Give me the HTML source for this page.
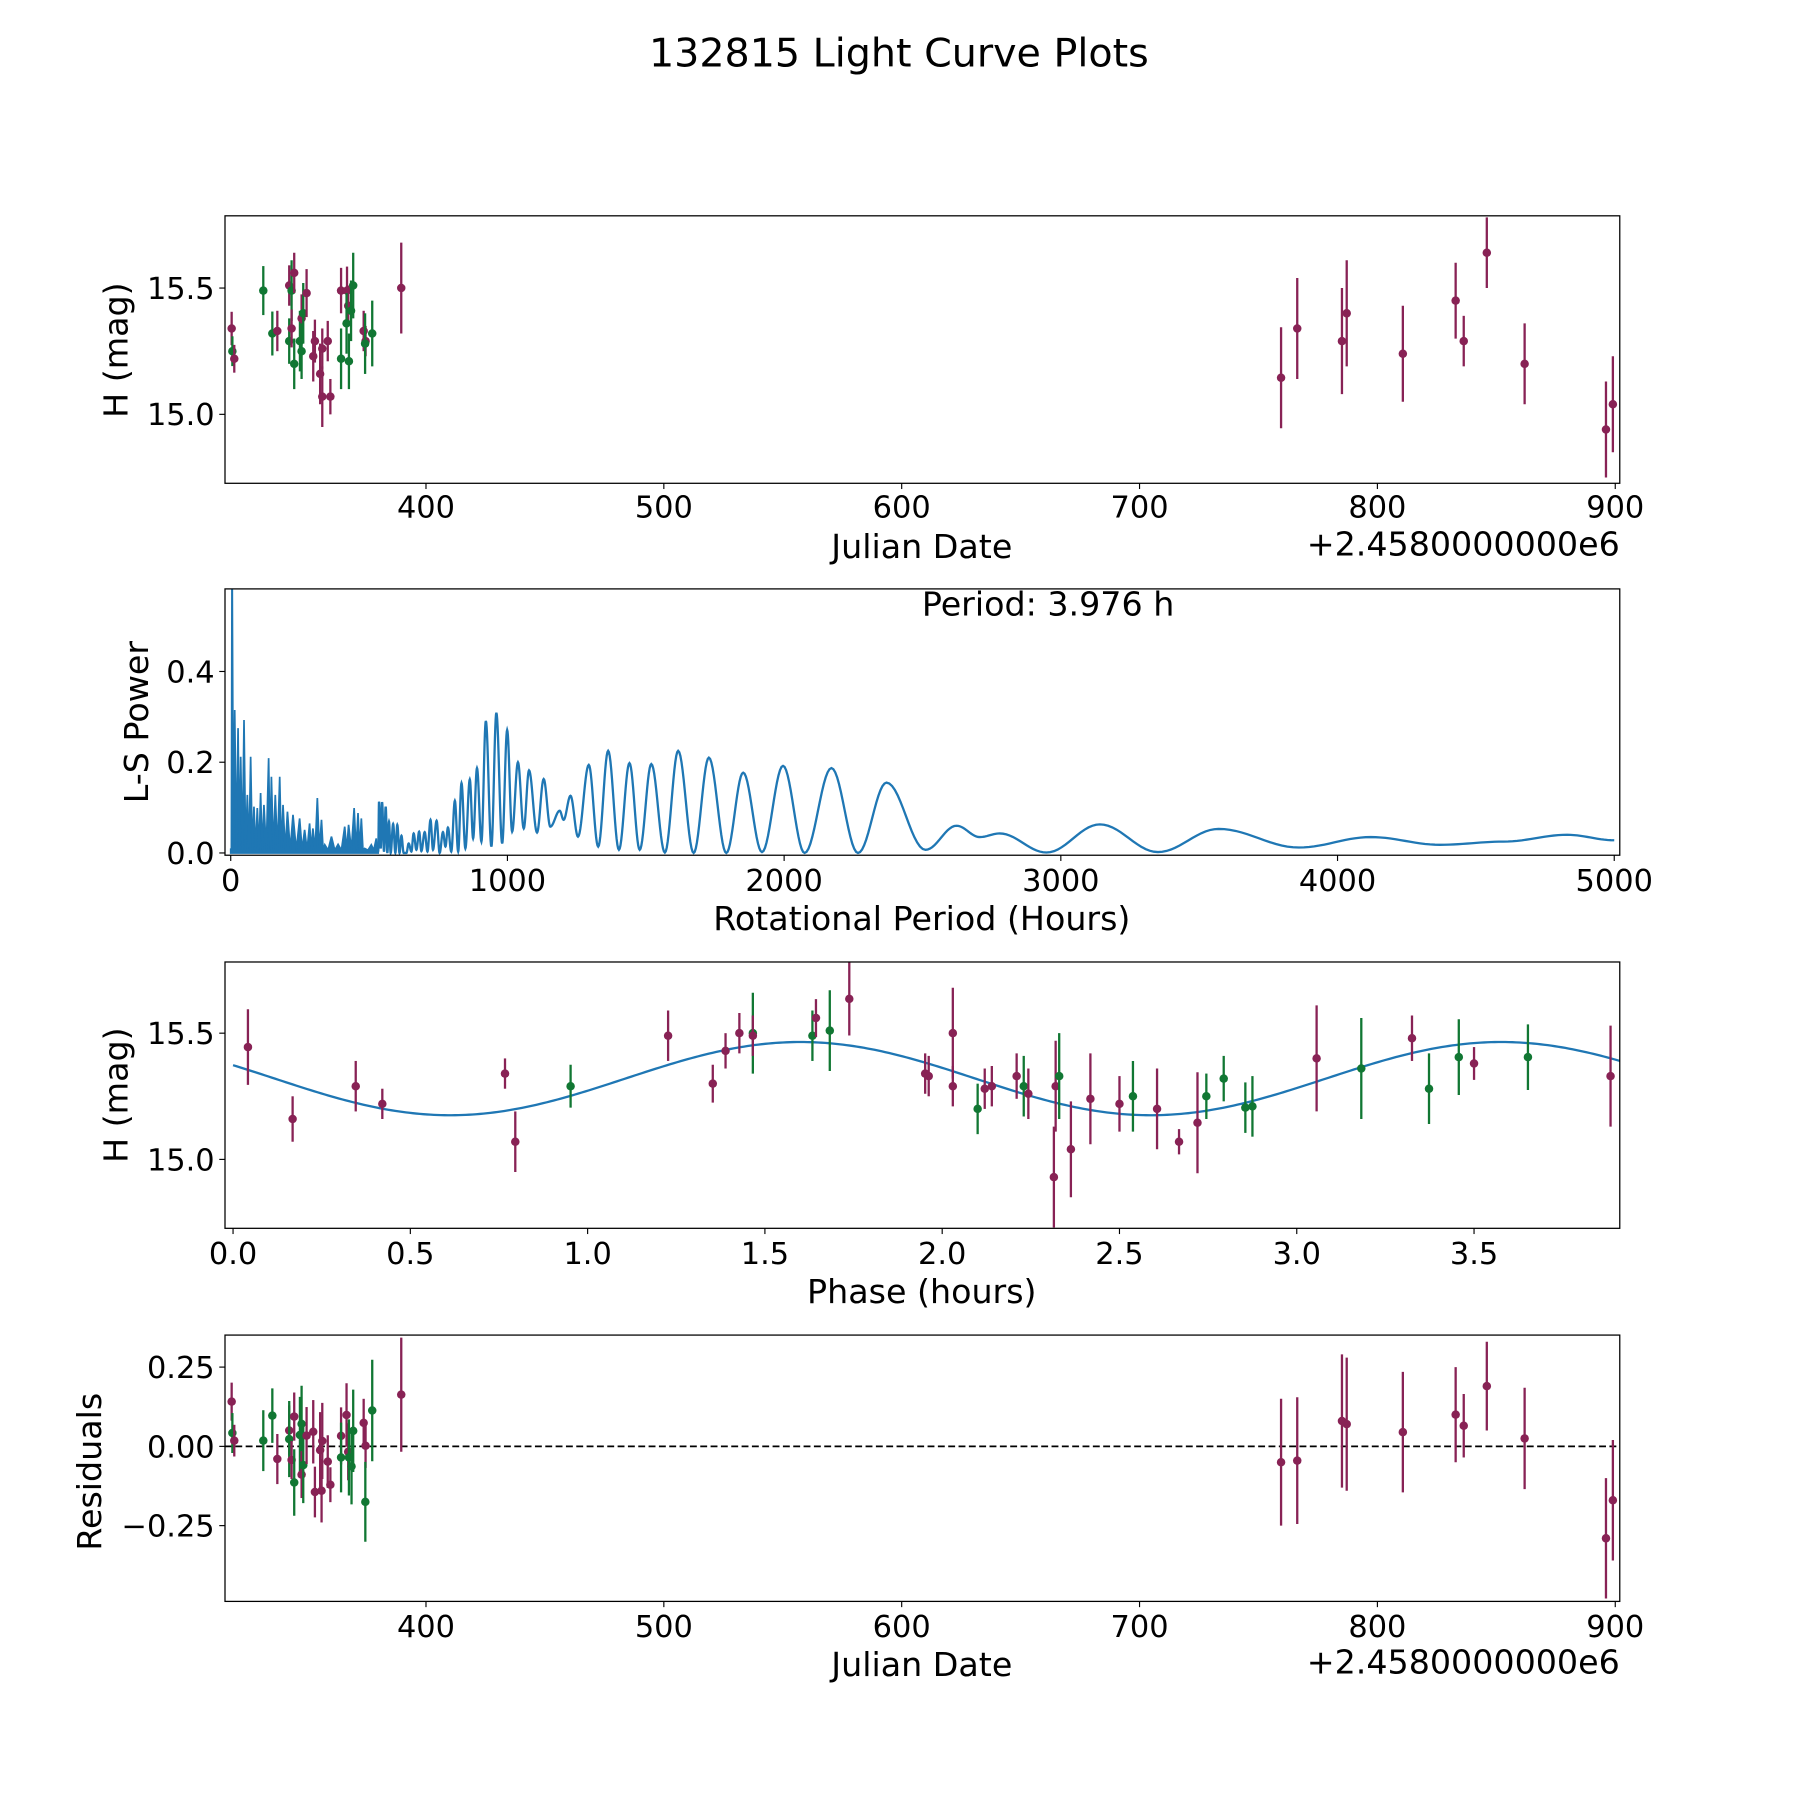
<!DOCTYPE html>
<html><head><meta charset="utf-8"><style>
html,body{margin:0;padding:0;background:#fff}
svg{display:block}
text{font-family:"DejaVu Sans","Liberation Sans",sans-serif;fill:#000}
</style></head><body>
<svg id="fig" width="1800" height="1800" viewBox="0 0 1568 1568" xmlns="http://www.w3.org/2000/svg">
<rect width="1568" height="1568" fill="#fff"/>
<text x="783" y="58" font-size="34.5" text-anchor="middle">132815 Light Curve Plots</text>
</svg>
<script>
// ---------- Panel 1 data: light curve ----------
const jd1  = [318.3,318.6,319.4,331.6,335.4,337.5,342.5,343.5,344.6,342.5,343.5,344.6,347,347.7,348.4,347.7,349.8,352.6,353.3,355.5,356.4,356.4,358.7,359.8,364.3,364.3,366.8,367.3,369.4,368.5,366.6,367.6,373.8,374.6,374.4,377.4,389.6,
              759.5,766.3,785.1,787.1,810.7,832.9,836.3,846,861.9,896.1,899];
const mag1 = [15.34,15.25,15.22,15.49,15.32,15.33,15.51,15.49,15.56,15.29,15.34,15.20,15.29,15.38,15.40,15.25,15.48,15.23,15.29,15.16,15.07,15.26,15.29,15.07,15.49,15.22,15.49,15.43,15.51,15.41,15.36,15.21,15.33,15.29,15.28,15.32,15.50,
              15.145,15.34,15.29,15.40,15.24,15.45,15.29,15.64,15.20,14.94,15.04];
const err1 = [0.066,0.059,0.055,0.097,0.087,0.08,0.08,0.12,0.08,0.09,0.075,0.10,0.12,0.095,0.12,0.11,0.095,0.1,0.085,0.12,0.12,0.08,0.08,0.07,0.09,0.12,0.095,0.08,0.13,0.12,0.12,0.11,0.08,0.06,0.12,0.13,0.18,
              0.2,0.2,0.21,0.21,0.19,0.15,0.1,0.14,0.16,0.19,0.19];
const col1 = ['p','g','p','g','g','p','p','g','p','g','p','g','g','p','g','g','p','p','p','p','p','p','p','p','p','g','p','p','g','g','g','g','p','p','g','g','p',
              'p','p','p','p','p','p','p','p','p','p','p'];
// ---------- Panel 2 data: periodogram ----------
const denseP = [0,4.8,14.4,26.5,36,48,60,72,84,96,108,120,137,147,161,177,189,205,225,249,267,285,297,313,328,340,364,388,412,426,446,460,472,484,508,526,533];
const denseV = [0.01,0.7,0.315,0.275,0.212,0.293,0.128,0.212,0.102,0.099,0.132,0.106,0.209,0.168,0.128,0.168,0.106,0.091,0.084,0.076,0.051,0.065,0.054,0.121,0.073,0.018,0.036,0.019,0.058,0.062,0.099,0.088,0.076,0.010,0.018,0.032,0.003];
const oscP = [533,536,542,547,554,560,566,572,578,587,595,602,610,617,625,635,643,653,661,671,681,689,701,711,722,731,744,755,767,776,785,797,810,822,834,848,864,876,890,906,922,942,960,981,999,1017,1038,1059,1078,1107,1131,1155,1189,1203,1228,1255,1294,1328,1364,1403,1441,1478,1520,1569,1617,1673,1728,1791,1852,1920,1996,2074,2171,2267,2370,2511,2623,2707,2779,2948,3141,3351,3570,3860,4120,4370,4600,4830,5000];
const oscV = [0.003,0.113,0.010,0.112,0.003,0.102,0,0.069,0,0.064,0,0.062,0,0.038,0,0,0.021,0.003,0.043,0.007,0.047,0.004,0.046,0.003,0.073,0.007,0.071,0,0.046,0.014,0.056,0.003,0.115,0.003,0.154,0.010,0.162,0.032,0.187,0.025,0.291,0.014,0.309,0.021,0.271,0.047,0.200,0.054,0.182,0.045,0.163,0.058,0.093,0.073,0.126,0.036,0.194,0.014,0.225,0.007,0.198,0.007,0.196,0.001,0.225,0,0.210,0,0.177,0.002,0.192,0,0.187,0,0.155,0.007,0.060,0.035,0.043,0.001,0.063,0.002,0.053,0.012,0.035,0.018,0.025,0.040,0.028];
// ---------- Panel 3 data: phased curve ----------
const ph3  = [0.042,0.168,0.346,0.421,0.767,0.796,0.952,1.227,1.353,1.389,1.428,1.466,1.466,1.634,1.644,1.683,1.738,1.952,1.962,2.03,2.03,2.10,2.12,2.14,2.21,2.23,2.243,2.315,2.32,2.33,2.363,2.418,2.5,2.538,2.606,2.668,2.72,2.745,2.794,2.855,2.875,3.056,3.182,3.325,3.373,3.457,3.5,3.652,3.885];
const mag3 = [15.445,15.16,15.29,15.22,15.34,15.07,15.29,15.49,15.30,15.43,15.50,15.5,15.49,15.49,15.56,15.51,15.636,15.34,15.33,15.50,15.29,15.20,15.28,15.29,15.33,15.29,15.26,14.93,15.29,15.33,15.04,15.24,15.22,15.25,15.2,15.07,15.145,15.25,15.32,15.205,15.21,15.4,15.36,15.48,15.28,15.405,15.38,15.405,15.33];
const err3 = [0.15,0.09,0.1,0.06,0.06,0.12,0.085,0.1,0.075,0.07,0.08,0.16,0.08,0.1,0.075,0.16,0.145,0.08,0.08,0.18,0.08,0.1,0.08,0.08,0.09,0.12,0.1,0.2,0.18,0.17,0.19,0.18,0.11,0.14,0.16,0.05,0.2,0.09,0.09,0.1,0.12,0.21,0.2,0.09,0.14,0.15,0.065,0.13,0.2];
const col3 = ['p','p','p','p','p','p','g','p','p','p','p','g','p','g','p','g','p','p','p','p','p','g','p','p','p','g','p','p','p','g','p','p','p','g','p','p','p','g','g','g','g','p','g','p','g','g','p','g','p'];
const fitParams = [15.32, 0.145, 1.6, 1.976]; // mean, amplitude, peak phase, period
// ---------- Panel 4 data: residuals ----------
const jd4  = [318.3,318.6,319.4,331.6,335.4,337.5,342.5,342.5,344.6,343.5,344.6,347.7,347,347.7,348.4,349.8,352.6,353.3,355.5,356.4,356.1,358.7,359.8,364.3,364.3,366.6,367.3,367.6,368.7,369.4,373.8,374.6,374.5,377.4,389.6,
              759.5,766.3,785.1,787.1,810.7,832.9,836.3,846,861.9,896.1,899];
const res4 = [0.141,0.042,0.018,0.018,0.097,-0.04,0.05,0.023,0.094,-0.043,-0.114,0.071,0.036,-0.089,-0.059,0.034,0.046,-0.144,-0.012,0.017,-0.14,-0.048,-0.121,0.033,-0.035,0.099,-0.017,-0.035,-0.063,0.049,0.074,0.002,-0.175,0.113,0.163,
              -0.05,-0.045,0.08,0.07,0.045,0.1,0.065,0.19,0.025,-0.29,-0.17];
const err4 = [0.06,0.063,0.05,0.096,0.086,0.079,0.079,0.12,0.076,0.06,0.105,0.12,0.12,0.074,0.12,0.09,0.1,0.08,0.12,0.12,0.1,0.083,0.055,0.09,0.11,0.1,0.09,0.12,0.12,0.13,0.076,0.07,0.126,0.16,0.18,
              0.2,0.2,0.21,0.21,0.19,0.15,0.1,0.14,0.16,0.19,0.19];
const col4 = ['p','g','p','g','g','p','p','g','p','p','g','g','g','p','g','p','p','p','p','p','p','p','p','p','g','p','p','g','g','g','p','p','g','g','p',
              'p','p','p','p','p','p','p','p','p','p','p'];
// ---------- ticks ----------
const jdTicks = [400,500,600,700,800,900];
const magTicks = [15.0,15.5];
const perTicks = [0,1000,2000,3000,4000,5000];
const powTicks = [0.0,0.2,0.4];
const phTicks = [0.0,0.5,1.0,1.5,2.0,2.5,3.0,3.5];
const resTicks = [0.25,0.00,-0.25];
const resLabels = ['0.25','0.00','\u22120.25'];

const NS='http://www.w3.org/2000/svg';
const svg=document.getElementById('fig');
const COL={p:'#882255',g:'#117733'};
const TICK_FS=26.5, LABEL_FS=29;
function mk(tag,attrs,parent){const e=document.createElementNS(NS,tag);for(const k in attrs)e.setAttribute(k,attrs[k]);(parent||svg).appendChild(e);return e;}
function lin(d0,d1,r0,r1){return v=>r0+(v-d0)*(r1-r0)/(d1-d0);}
const L=196,R=1411;

function panel(id,top,bot,xd,yd){
  const g=mk('g',{});
  
  
  const cp=mk('clipPath',{id:'clip-'+id},g);
  mk('rect',{x:L,y:top,width:R-L,height:bot-top},cp);
  const plot=mk('g',{'clip-path':'url(#clip-'+id+')'},g);
  return {g,plot,top,bot,sx:lin(xd[0],xd[1],L,R),sy:lin(yd[0],yd[1],bot,top)};
}
function frame(P){
  const r=mk('rect',{x:L,y:P.top,width:R-L,height:P.bot-P.top,fill:'none',stroke:'#000','stroke-width':1.1},P.g);
  
  
}
function xticks(P,ticks,labels,y){
  ticks.forEach((t,i)=>{const x=P.sx(t);
    mk('line',{x1:x,x2:x,y1:P.bot,y2:P.bot+5,stroke:'#000','stroke-width':1},P.g);
    const tx=mk('text',{x:x,y:y,'font-size':TICK_FS,'text-anchor':'middle'},P.g);tx.textContent=labels[i];
    
    
  });
}
function yticks(P,ticks,labels){
  ticks.forEach((t,i)=>{const y=P.sy(t);
    mk('line',{x1:L-5,x2:L,y1:y,y2:y,stroke:'#000','stroke-width':1},P.g);
    const tx=mk('text',{x:L-9,y:y+9.5,'font-size':TICK_FS,'text-anchor':'end'},P.g);tx.textContent=labels[i];
    
    
  });
}
function label(P,txt,x,y,rot,name,anchor,fs){
  const t=mk('text',{x:x,y:y,'font-size':fs||LABEL_FS,'text-anchor':anchor||'middle'},P.g);
  if(rot)t.setAttribute('transform','rotate(-90 '+x+' '+y+')');
  t.textContent=txt;
  
  
}
function errpts(P,xs,ys,es,cs,name){
  xs.forEach((xv,i)=>{const x=P.sx(xv),c=COL[cs[i]];
    const ln=mk('line',{x1:x,x2:x,y1:P.sy(ys[i]-es[i]),y2:P.sy(ys[i]+es[i]),stroke:c,'stroke-width':2},P.plot);
    
    
    const ci=mk('circle',{cx:x,cy:P.sy(ys[i]),r:3.7,fill:c},P.plot);
    
    
  });
}
const jdLabels=jdTicks.map(String);

// Panel 1
const P1=panel('light-curve',188,421,[315.5,901.9],[14.727,15.786]);
errpts(P1,jd1,mag1,err1,col1,'magnitude');
frame(P1);xticks(P1,jdTicks,jdLabels,451);yticks(P1,magTicks,['15.0','15.5']);
label(P1,'Julian Date',803,486,false,'x-axis-title');
label(P1,'+2.4580000000e6',1411,484,false,'x-axis-offset','end');
label(P1,'H (mag)',111,305,true,'y-axis-title');

// Panel 2
const P2=panel('periodogram',513,745,[-20.7,5020],[-0.005,0.582]);
{
  let pts=[[P2.sx(denseP[0]),P2.sy(0)]];
  denseP.forEach((p,i)=>{pts.push([P2.sx(p),P2.sy(denseV[i])]);
    if(i<denseP.length-1){pts.push([P2.sx((p+denseP[i+1])/2),P2.sy(0.006)]);}});
  pts.push([P2.sx(denseP[denseP.length-1]),P2.sy(0)]);
  const poly=mk('polygon',{points:pts.map(q=>q.join(',')).join(' '),fill:'#1f77b4',stroke:'#1f77b4','stroke-width':1.5,'stroke-linejoin':'miter'},P2.plot);
  
  
  let d='M'+P2.sx(oscP[0])+','+P2.sy(oscV[0]);
  for(let i=0;i<oscP.length-1;i++){
    for(let k=1;k<=14;k++){const t=k/14,w=(1-Math.cos(Math.PI*t))/2;
      const p=oscP[i]+(oscP[i+1]-oscP[i])*t,v=oscV[i]+(oscV[i+1]-oscV[i])*w;
      d+=' L'+P2.sx(p).toFixed(2)+','+P2.sy(v).toFixed(2);}
  }
  const pl=mk('path',{d:d,fill:'none',stroke:'#1f77b4','stroke-width':2},P2.plot);
  
  
}
frame(P2);xticks(P2,perTicks,perTicks.map(String),776);yticks(P2,powTicks,['0.0','0.2','0.4']);
label(P2,'Rotational Period (Hours)',803,810,false,'x-axis-title');
label(P2,'L-S Power',129,629,true,'y-axis-title');
label(P2,'Period: 3.976 h',913,536,false,'period-annotation');

// Panel 3
const P3=panel('phased-curve',838,1070,[-0.0227,3.911],[14.727,15.782]);
{
  let d='';
  for(let k=0;k<=400;k++){const ph=3.976*k/400;
    const v=fitParams[0]+fitParams[1]*Math.cos(2*Math.PI*(ph-fitParams[2])/fitParams[3]);
    d+=(k?' L':'M')+P3.sx(ph).toFixed(2)+','+P3.sy(v).toFixed(2);}
  const fl=mk('path',{d:d,fill:'none',stroke:'#1f77b4','stroke-width':2},P3.plot);
  
  
}
errpts(P3,ph3,mag3,err3,col3,'phased');
frame(P3);xticks(P3,phTicks,phTicks.map(v=>v.toFixed(1)),1101);yticks(P3,magTicks,['15.0','15.5']);
label(P3,'Phase (hours)',803,1135,false,'x-axis-title');
label(P3,'H (mag)',111,954,true,'y-axis-title');

// Panel 4
const P4=panel('residuals',1163,1395,[315.5,901.9],[-0.489,0.351]);
{
  const z=mk('line',{x1:L,x2:R,y1:P4.sy(0),y2:P4.sy(0),stroke:'#000','stroke-width':1.6,'stroke-dasharray':'6,3'},P4.plot);
  
  
}
errpts(P4,jd4,res4,err4,col4,'residual');
frame(P4);xticks(P4,jdTicks,jdLabels,1426);yticks(P4,resTicks,resLabels);
label(P4,'Julian Date',803,1460,false,'x-axis-title');
label(P4,'+2.4580000000e6',1411,1458,false,'x-axis-offset','end');
label(P4,'Residuals',88,1282,true,'y-axis-title');
</script>
</body></html>
